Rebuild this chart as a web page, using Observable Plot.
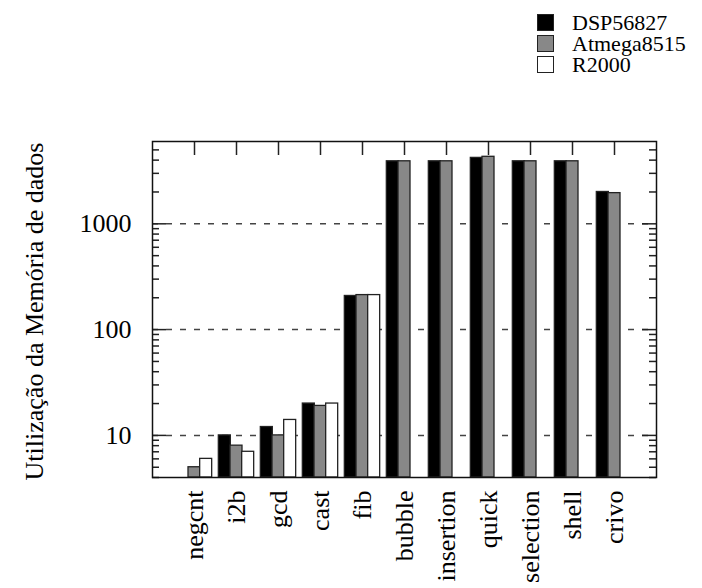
<!DOCTYPE html>
<html>
<head>
<meta charset="utf-8">
<script src="https://cdn.jsdelivr.net/npm/d3@7"></script>
<script src="https://cdn.jsdelivr.net/npm/@observablehq/plot@0.6"></script>
<style>
  html, body { margin: 0; padding: 0; background: #fff; }
  #wrap { width: 702px; font-family: "Liberation Serif", "DejaVu Serif", serif; }
  #legend { position: relative; height: 90px; width: 702px; }
  .item { position: absolute; left: 537px; display: flex; align-items: center; height: 21px; }
  .sw { width: 17px; height: 17px; box-sizing: border-box; border: 1.3px solid #222; margin-right: 18px; }
  .lab { font-size: 22px; color: #000; line-height: 21px; }
</style>
</head>
<body>
<div id="wrap">
  <div id="legend"></div>
  <div id="chart"></div>
</div>
<script>
const categories = ["negcnt","i2b","gcd","cast","fib","bubble","insertion","quick","selection","shell","crivo"];
const seriesNames = ["DSP56827","Atmega8515","R2000"];
const dsp    = [null, 10, 12, 20, 208, 3900, 3900, 4200, 3900, 3900, 2000];
const atmega = [5, 8, 10, 19, 212, 3900, 3900, 4300, 3900, 3900, 1950];
const r2000  = [6, 7, 14, 20, 212, null, null, null, null, null, null];
const majorTicks = [10, 100, 1000];
const yDomain = [4, 6000];
const minorTicks = [4,5,6,7,8,9,20,30,40,50,60,70,80,90,200,300,400,500,600,700,800,900,2000,3000,4000,5000];
const yTitle = "Utilização da Memória de dados";

const colors = ["#000000", "#888888", "#ffffff"];
const seriesValues = [dsp, atmega, r2000];

// legend
const legend = document.getElementById("legend");
seriesNames.forEach((name, i) => {
  const it = document.createElement("div");
  it.className = "item";
  it.style.top = (11.5 + i * 21) + "px";
  const sw = document.createElement("div");
  sw.className = "sw";
  sw.style.background = colors[i];
  const lab = document.createElement("span");
  lab.className = "lab";
  lab.textContent = name;
  it.appendChild(sw); it.appendChild(lab);
  legend.appendChild(it);
});

const W = 702, H = 498;
const mL = 152, mR = 46, mT = 51, mB = 111;
const plotW = W - mL - mR, plotH = H - mT - mB;
const step = plotW / 12;
const barW = step * 0.278;

const bars = seriesValues.map((vals, s) =>
  categories.map((c, i) => ({cat: c, v: vals[i]})).filter(d => d.v != null)
);

const stroke = "#222";
const marks = [
  Plot.ruleY(majorTicks, {y: d => d, stroke: "#444", strokeWidth: 1.5, strokeDasharray: "6,8"}),
  ...bars.map((data, s) => Plot.barY(data, {
    x: "cat", y1: yDomain[0], y2: "v", fill: colors[s], stroke, strokeWidth: 1.3,
    dx: (s - 1) * barW
  })),
  Plot.tickY(majorTicks, {y: d => d, stroke, strokeWidth: 1.5, insetRight: plotW - 14}),
  Plot.tickY(majorTicks, {y: d => d, stroke, strokeWidth: 1.5, insetLeft: plotW - 14}),
  Plot.tickY(minorTicks, {y: d => d, stroke, strokeWidth: 1.5, insetRight: plotW - 7}),
  Plot.tickY(minorTicks, {y: d => d, stroke, strokeWidth: 1.5, insetLeft: plotW - 7}),
  Plot.tickX(categories, {x: d => d, stroke, strokeWidth: 1.5, insetBottom: plotH - 14}),
  Plot.axisY({ticks: majorTicks, tickFormat: d => String(d), tickSize: 0, tickPadding: 21, fontSize: 26, label: null}),
  Plot.axisX({tickSize: 0, tickPadding: 13, tickRotate: -90, fontSize: 26, label: null}),
  Plot.text([yTitle], {text: d => d, frameAnchor: "left", textAnchor: "middle", rotate: -90, dx: -110, dy: 2, fontSize: 26, lineAnchor: "bottom", fill: "#000"}),
  Plot.frame({stroke: "#111", strokeWidth: 1.5})
];

const chart = Plot.plot({
  width: W, height: H,
  marginLeft: mL, marginRight: mR, marginTop: mT, marginBottom: mB,
  style: {fontFamily: "Liberation Serif", color: "#000", background: "#fff", overflow: "visible"},
  x: {type: "band", domain: categories, paddingInner: 0.722, paddingOuter: 0.861, axis: null},
  y: {type: "log", domain: yDomain, axis: null},
  marks
});
document.getElementById("chart").appendChild(chart);
</script>
</body>
</html>
